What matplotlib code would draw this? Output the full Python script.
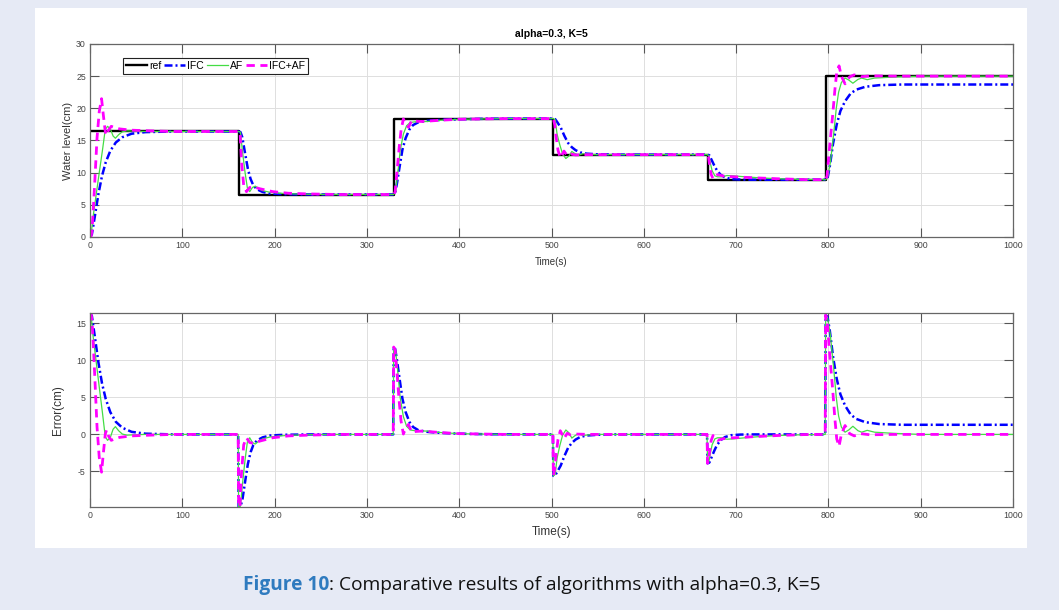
import numpy as np
import matplotlib.pyplot as plt
from matplotlib.patches import Rectangle

# reference steps (time of switch, level)
switch_t = [0, 161, 329, 502, 669, 797]
ref_level = [16.4, 6.6, 18.4, 12.8, 8.9, 25.0]

# IFC output
ifc_t = [0, 2, 5, 9, 13, 17, 22, 28, 35, 45, 60, 90, 160.5,
         161, 163, 165, 168, 171, 174, 177, 181, 187, 195, 210, 240, 328.5,
         329, 330.5, 332.5, 335.5, 338.5, 342, 346, 350, 356, 365, 380, 400, 430, 480, 501.5,
         502, 504, 506, 510, 514, 518, 522, 526, 531, 538, 550, 570, 668.5,
         669, 671, 673, 676, 679, 683, 688, 695, 705, 720, 796.5,
         797, 799, 801.5, 805, 809, 813, 818, 824, 830, 840, 855, 880, 1000]
ifc_y = [0, 0.4, 3.0, 6.6, 9.5, 11.6, 13.4, 14.7, 15.5, 16.05, 16.3, 16.4, 16.4,
         16.4, 16.3, 15.5, 13.0, 10.6, 9.0, 8.0, 7.4, 7.0, 6.75, 6.65, 6.6, 6.6,
         6.6, 6.8, 8.3, 11.0, 13.6, 15.4, 16.7, 17.4, 17.85, 18.05, 18.2, 18.3, 18.38, 18.4, 18.4,
         18.4, 18.3, 17.9, 17.0, 15.7, 14.6, 13.95, 13.5, 13.15, 12.95, 12.85, 12.8, 12.8,
         12.8, 12.7, 12.1, 11.2, 10.4, 9.7, 9.25, 9.0, 8.92, 8.9, 8.9,
         8.9, 9.1, 11.0, 14.5, 17.5, 19.6, 21.1, 22.3, 22.9, 23.35, 23.6, 23.7, 23.7]

# AF output
af_t = [0, 1, 3, 6.5, 10, 13.5, 16.5, 19, 22, 25, 27.5, 31, 35, 40, 48, 60, 160.5,
        161, 163, 165, 168, 170.5, 173, 176, 179, 183, 187, 195, 205, 230, 260, 328.5,
        329, 331, 333.5, 336, 339.5, 343, 347, 352, 365, 380, 400, 450, 501.5,
        502, 504, 506, 509, 512, 515.5, 519, 522, 525, 529, 534, 545, 668.5,
        669, 670.5, 672, 674, 677, 680, 684, 690, 697, 710, 725, 745, 770, 796.5,
        797, 799, 802, 805.5, 808.5, 811, 814, 818, 822, 826.5, 832, 836, 842, 850, 870, 900, 1000]
af_y = [0, 0, 2.8, 6.4, 10.0, 13.5, 16.7, 17.2, 16.8, 15.7, 15.35, 15.9, 16.35, 16.5, 16.45, 16.4, 16.4,
        16.4, 16.3, 13.5, 10.0, 7.6, 7.05, 7.7, 7.9, 7.5, 7.2, 6.95, 6.8, 6.65, 6.6, 6.6,
        6.6, 7.0, 10.0, 13.4, 16.0, 17.3, 17.8, 17.9, 17.95, 18.15, 18.3, 18.4, 18.4,
        18.4, 18.2, 16.0, 14.3, 12.9, 12.2, 12.6, 13.3, 13.0, 12.7, 12.95, 12.8, 12.8,
        12.8, 12.6, 11.5, 10.3, 9.5, 9.35, 9.35, 9.55, 9.5, 9.35, 9.2, 9.05, 8.95, 8.9,
        8.9, 9.2, 11.5, 15.8, 20.0, 22.5, 24.0, 24.7, 24.4, 23.9, 24.5, 24.7, 24.45, 24.7, 24.85, 25.0, 25.0]

# IFC+AF output
ifcaf_t = [0, 1, 2.2, 4.7, 7.6, 10, 12.5, 14.4, 16.6, 18, 20, 23, 27, 32, 45, 65, 90, 160.5,
           161, 162.5, 164, 166.5, 169.5, 173, 177, 184, 198, 215, 235, 270, 328.5,
           329, 330.5, 332.5, 335, 337, 339.5, 342, 345, 348.5, 353, 360, 380, 400, 450, 501.5,
           502, 503.5, 505, 507, 509.5, 511.5, 513.5, 517, 521, 526, 540, 668.5,
           669, 670, 671.5, 673, 675, 677.5, 680, 685, 692, 705, 720, 745, 775, 796.5,
           797, 798.5, 801.5, 804.5, 807, 809, 811.5, 814, 818, 823, 828, 835, 845, 870, 1000]
ifcaf_y = [0, 0, 1.0, 7.3, 15.4, 19.5, 21.5, 19.0, 16.3, 15.8, 16.6, 17.2, 17.0, 16.8, 16.6, 16.5, 16.4, 16.4,
           16.4, 16.3, 12.0, 8.0, 7.05, 7.7, 7.8, 7.5, 7.05, 6.8, 6.7, 6.6, 6.6,
           6.6, 7.0, 10.0, 14.0, 16.6, 18.35, 17.6, 17.05, 18.1, 18.0, 17.95, 18.15, 18.3, 18.4, 18.4,
           18.4, 17.4, 15.5, 13.5, 12.3, 12.8, 13.35, 12.65, 12.9, 12.75, 12.8, 12.8,
           12.8, 12.5, 11.0, 9.7, 9.05, 9.5, 9.7, 9.5, 9.4, 9.3, 9.2, 9.05, 8.92, 8.9,
           8.9, 9.5, 14.4, 18.8, 22.9, 25.6, 26.6, 25.0, 23.8, 24.9, 25.2, 24.9, 25.05, 25.0, 25.0]


def ref_at(t):
    idx = np.searchsorted(switch_t, t, side='right') - 1
    return np.array(ref_level)[idx]


plt.rcParams['font.family'] = ['Liberation Sans', 'DejaVu Sans']
plt.rcParams['axes.unicode_minus'] = False

fig = plt.figure(figsize=(10.59, 6.10), dpi=100)
fig.patch.set_facecolor('#e6eaf5')
fig.patches.append(Rectangle((35 / 1059, 62 / 610), 992 / 1059, 540 / 610,
                             transform=fig.transFigure, facecolor='white',
                             edgecolor='none', zorder=-10))

ax1 = fig.add_axes([0.085, 0.6115, 0.8716, 0.3164])
ax2 = fig.add_axes([0.085, 0.1689, 0.8716, 0.318])

styles = {
    'IFC': dict(color='#0000ff', lw=1.8, dashes=(3.2, 1.2, 0.8, 1.2)),
    'AF': dict(color='#44dd44', lw=0.9),
    'IFC+AF': dict(color='#ff00ff', lw=2.0, dashes=(3, 2)),
}
series = [('IFC', ifc_t, ifc_y), ('AF', af_t, af_y), ('IFC+AF', ifcaf_t, ifcaf_y)]

# top: water level
ax1.plot(switch_t + [1000], ref_level + [ref_level[-1]], drawstyle='steps-post',
         color='black', lw=1.7, label='ref')
for name, t, y in series:
    ax1.plot(t, y, label=name, **styles[name])

# bottom: error = ref - output
err_min, err_max = 0, 0
for name, t, y in series:
    t = np.array(t)
    e = ref_at(t) - np.array(y)
    err_min = min(err_min, e.min())
    err_max = max(err_max, e.max())
    ax2.plot(t, e, **styles[name])

ax1.set_xlim(0, 1000)
ax1.set_ylim(0, 30)
ax1.set_yticks(range(0, 31, 5))
ax2.set_xlim(0, 1000)
ax2.set_ylim(err_min, err_max)
ax2.set_yticks([-5, 0, 5, 10, 15])

for ax in (ax1, ax2):
    ax.set_xticks(range(0, 1001, 100))
    ax.grid(True, color='#dedede', lw=0.7)
    ax.set_axisbelow(True)
    ax.tick_params(direction='in', top=True, right=True, length=6.5, width=0.8,
                   labelsize=6.3, labelcolor='#444444', color='#555555', pad=3)
    for s in ax.spines.values():
        s.set_color('#666666')
        s.set_linewidth(0.9)

ax1.set_title('alpha=0.3, K=5', fontweight='bold', fontsize=7.5, pad=5)
ax1.set_xlabel('Time(s)', fontsize=7, color='#333333')
ax1.xaxis.set_label_coords(0.5, -0.105)
ax1.set_ylabel('Water level(cm)', fontsize=8, color='#333333')
ax1.yaxis.set_label_coords(-0.018, 0.5)
ax2.set_xlabel('Time(s)', fontsize=8.5, color='#333333')
ax2.xaxis.set_label_coords(0.5, -0.1)
ax2.set_ylabel('Error(cm)', fontsize=8.5, color='#333333')
ax2.yaxis.set_label_coords(-0.028, 0.5)

leg = ax1.legend(loc='upper left', bbox_to_anchor=(0.03, 0.955), ncol=4,
                 fontsize=7.5, handlelength=2.0, handletextpad=0.2,
                 columnspacing=0.3, borderpad=0.3, fancybox=False,
                 framealpha=1, edgecolor='#222222')
leg.get_frame().set_linewidth(0.8)

fig.text(329 / 1059, 0.041, 'Figure 10', ha='right', va='center', fontsize=13.8,
         fontweight='bold', color='#2f7bbf', family=['Open Sans', 'DejaVu Sans'])
fig.text(329 / 1059, 0.041, ': Comparative results of algorithms with alpha=0.3, K=5',
         ha='left', va='center', fontsize=13.8, color='#111111',
         family=['Open Sans', 'DejaVu Sans'])

fig.savefig('out.png', dpi=100, facecolor=fig.get_facecolor())
